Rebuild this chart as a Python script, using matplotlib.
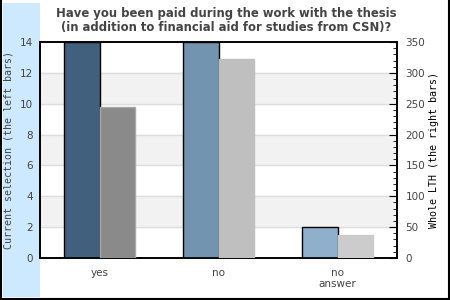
import matplotlib.pyplot as plt
import numpy as np
from matplotlib.patches import Rectangle
from matplotlib.lines import Line2D
from matplotlib.ticker import MultipleLocator

categories = ["yes", "no", "no\nanswer"]
current_selection = [14, 14, 2]
whole_lth = [244, 323, 37]
left_colors = ["#41607e", "#7394b0", "#8fb0cc"]
right_colors = ["#8a8a8a", "#bfbfbf", "#cccccc"]
right_edges = ["#a8a8a8", "#bfbfbf", "#cccccc"]
title = ("Have you been paid during the work with the thesis\n"
         "(in addition to financial aid for studies from CSN)?")

txt = "#444444"
fig = plt.figure(figsize=(4.5, 3), dpi=100)
W, H = 450, 300

# light blue strip on the left + outer border (no top line)
fig.patches.append(Rectangle((3 / W, 3 / H), 37 / W, 294 / H, transform=fig.transFigure,
                             facecolor="#cce9ff", edgecolor="none", zorder=-5))
border = [((0.75, 0.75), (0, H)), ((449.25, 449.25), (0, H)), ((0, W), (0.75, 0.75))]
for xs, ys in border:
    fig.lines.append(Line2D(np.array(xs) / W, np.array(ys) / H,
                            transform=fig.transFigure, color="black", lw=1.5, zorder=-4))

ax = fig.add_axes([40 / W, 42 / H, 357 / W, 216 / H])
ax2 = ax.twinx()

x = np.arange(len(categories))
bw = 0.3
ax.bar(x - bw / 2, current_selection, bw, color=left_colors, edgecolor="black", linewidth=1, zorder=3)
ax2.bar(x + bw / 2, whole_lth, bw, color=right_colors, edgecolor=right_edges, linewidth=1, zorder=3)

ax.set_xlim(-0.5, 2.5)
ax.set_ylim(0, 14)
ax2.set_ylim(0, 350)

# alternating bands + grid lines
for lo in [2, 6, 10]:
    ax.axhspan(lo, lo + 2, color="#f2f2f2", zorder=0)
for y in range(2, 14, 2):
    ax.axhline(y, color="#dddddd", lw=1, zorder=1)

ax.set_yticks(range(0, 15, 2))
ax.tick_params(axis="y", length=0, labelsize=7.5, labelcolor=txt, pad=5)
ax.set_xticks(x)
ax.set_xticklabels(categories, fontsize=7.5, color=txt, linespacing=1.2)
ax.tick_params(axis="x", length=0, pad=7)

ax2.yaxis.set_major_locator(MultipleLocator(50))
ax2.yaxis.set_minor_locator(MultipleLocator(10))
ax2.tick_params(axis="y", which="major", direction="in", length=6, labelsize=7.5, labelcolor=txt, pad=6)
ax2.tick_params(axis="y", which="minor", direction="in", length=3)

ax.set_ylabel("Current selection (the left bars)", family="DejaVu Sans Mono", fontsize=7.2, color=txt)
ax.yaxis.set_label_coords(-26 / 357, 0.5)
ax2.set_ylabel("Whole LTH (the right bars)", family="DejaVu Sans Mono", fontsize=7.2, color="black")
ax2.yaxis.set_label_coords(1 + 32 / 357, 0.5)

for a in (ax, ax2):
    for s in a.spines.values():
        s.set_linewidth(1.2)

fig.text(226 / W, 1 - 20 / H, title, ha="center", va="center", fontsize=8.4, fontweight="bold",
         color=txt, linespacing=1.1)

fig.savefig("out.png", dpi=100)
